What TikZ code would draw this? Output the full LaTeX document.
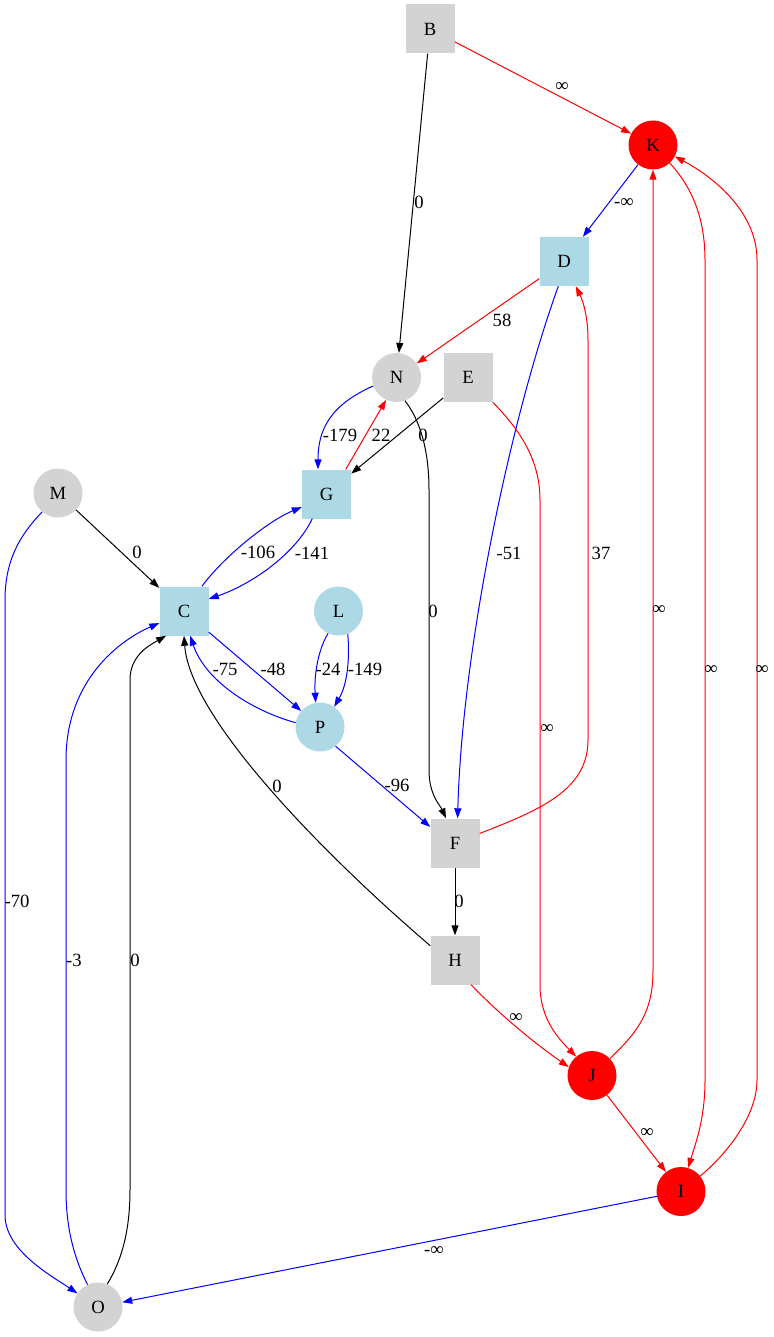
\documentclass[tikz,border=0pt]{standalone}
\usepackage{fontspec}
\setmainfont{Liberation Serif}
\usetikzlibrary{arrows.meta}
\definecolor{lgray}{RGB}{211,211,211}
\definecolor{lblue}{RGB}{173,216,230}
\begin{document}
\begin{tikzpicture}[x=1pt,y=1pt,
  every node/.style={font=\fontsize{18.67}{20}\selectfont},
  sq/.style={rectangle,minimum size=49pt,inner sep=0pt},
  rd/.style={circle,minimum size=49pt,inner sep=0pt},
  grayfill/.style={fill=lgray},
  bluefill/.style={fill=lblue},
  redfill/.style={fill=red},
  edge/.style={-{Triangle[length=10pt,width=7pt]},line width=1pt},
  redge/.style={edge,red},
  bedge/.style={edge,blue},
  kedge/.style={edge,black},
  lbl/.style={inner sep=0pt}
]
\useasboundingbox (0,0) rectangle (773,-1337);

% vertices
\node[sq,grayfill] (B) at (430,-29) {B};
\node[rd,redfill]  (K) at (653,-145) {K};
\node[sq,bluefill] (D) at (564,-261.5) {D};
\node[rd,grayfill] (N) at (396.5,-377.5) {N};
\node[sq,grayfill] (E) at (468,-377.5) {E};
\node[sq,bluefill] (G) at (326.5,-494) {G};
\node[rd,grayfill] (M) at (58,-493) {M};
\node[sq,bluefill] (C) at (184,-611) {C};
\node[rd,bluefill] (L) at (338.5,-611) {L};
\node[rd,bluefill] (P) at (320,-727) {P};
\node[sq,grayfill] (F) at (455,-843) {F};
\node[sq,grayfill] (H) at (455,-960) {H};
\node[rd,redfill]  (J) at (592,-1075.5) {J};
\node[rd,redfill]  (I) at (681,-1191.5) {I};
\node[rd,grayfill] (O) at (98,-1307) {O};

% edges
\draw[redge] (B) -- (K);
\draw[kedge] (B) -- (N);
\draw[bedge] (K) -- (D);
\draw[redge] (K) .. controls (690,-185) and (705,-215) .. (705,-260)
  -- (705,-1080) .. controls (705,-1120) and (695,-1145) .. (I);
\draw[redge] (I) .. controls (720,-1160) and (757,-1120) .. (757,-1080)
  -- (757,-260) .. controls (757,-210) and (710,-175) .. (K);
\draw[redge] (J) .. controls (640,-1030) and (653,-1010) .. (653,-970) -- (K);
\draw[redge] (D) -- (N);
\draw[bedge] (D.-103) .. controls (510,-420) and (462,-650) .. (F.84);
\draw[redge] (F) .. controls (540,-810) and (588,-790) .. (588,-740)
  -- (588,-340) .. controls (588,-310) and (580,-295) .. (D);
\draw[bedge] (N.200) .. controls (330,-405) and (318,-430) .. (G.109);
\draw[redge] (G.52) -- (N.-115);
\draw[kedge] (E) -- (G);
\draw[kedge] (N.-70) .. controls (420,-420) and (429,-450) .. (429,-490)
  -- (429,-770) .. controls (429,-795) and (440,-805) .. (F.110);
\draw[redge] (E.south east) .. controls (520,-430) and (540,-460) .. (540,-500)
  -- (540,-985) .. controls (540,-1020) and (560,-1040) .. (J.130);
\draw[kedge] (M) -- (C);
\draw[bedge] (M.-130) .. controls (20,-535) and (5,-560) .. (5,-600)
  -- (5,-1215) .. controls (5,-1250) and (50,-1275) .. (O);
\draw[bedge] (C.54) .. controls (225,-555) and (270,-520) .. (G.208);
\draw[bedge] (G.-120) .. controls (295,-555) and (250,-585) .. (C.26);
\draw[bedge] (C) -- (P);
\draw[bedge] (P.170) .. controls (250,-710) and (205,-680) .. (C.-76);
\draw[bedge] (L.-115) .. controls (318,-650) and (314,-675) .. (P.100);
\draw[bedge] (L.-68) .. controls (350,-660) and (347,-685) .. (P.55);
\draw[bedge] (P.-51) -- (F.147);
\draw[kedge] (H.150) .. controls (330,-860) and (190,-720) .. (C.-90);
\draw[kedge] (F) -- (H);
\draw[redge] (H.-57) .. controls (495,-1010) and (530,-1040) .. (J.160);
\draw[redge] (J) -- (I);
\draw[bedge] (I) -- (O);
\draw[bedge] (O.115) .. controls (75,-1260) and (66,-1230) .. (66,-1190)
  -- (66,-760) .. controls (66,-680) and (120,-640) .. (C.206);
\draw[kedge] (O.68) .. controls (122,-1260) and (130,-1230) .. (130,-1190)
  -- (130,-680) .. controls (130,-655) and (150,-645) .. (C.-126);

% edge labels
\node[lbl] (lBK) at (562,-87) {∞};
\node[lbl] (lBN) at (419,-202) {0};
\node[lbl] (lKD) at (624,-203) {-∞};
\node[lbl] (lDN) at (502,-320) {58};
\node[lbl] (lNG) at (340,-435) {-179};
\node[lbl] (lGN) at (381,-435) {22};
\node[lbl] (lEG) at (423,-435) {0};
\node[lbl] (lMC) at (137,-552) {0};
\node[lbl] (lCG) at (258,-552) {-106};
\node[lbl] (lGC) at (312,-553) {-141};
\node[lbl] (lDF) at (509,-553) {-51};
\node[lbl] (lFD) at (601,-553) {37};
\node[lbl] (lNF) at (433,-611) {0};
\node[lbl] (lJK) at (659,-610) {∞};
\node[lbl] (lKI) at (711,-670) {∞};
\node[lbl] (lIK) at (762,-670) {∞};
\node[lbl] (lPC) at (225,-669) {-75};
\node[lbl] (lCP) at (273,-669) {-48};
\node[lbl] (lLP1) at (328,-669) {-24};
\node[lbl] (lLP2) at (365,-669) {-149};
\node[lbl] (lEJ) at (547,-729) {∞};
\node[lbl] (lHC) at (277,-786) {0};
\node[lbl] (lPF) at (397,-785) {-96};
\node[lbl] (lMO) at (17,-901) {-70};
\node[lbl] (lFH) at (459,-901) {0};
\node[lbl] (lOC1) at (74,-960) {-3};
\node[lbl] (lOC2) at (135,-960) {0};
\node[lbl] (lHJ) at (516,-1018) {∞};
\node[lbl] (lJI) at (647,-1133) {∞};
\node[lbl] (lIO) at (434,-1251) {-∞};
\end{tikzpicture}
\end{document}
